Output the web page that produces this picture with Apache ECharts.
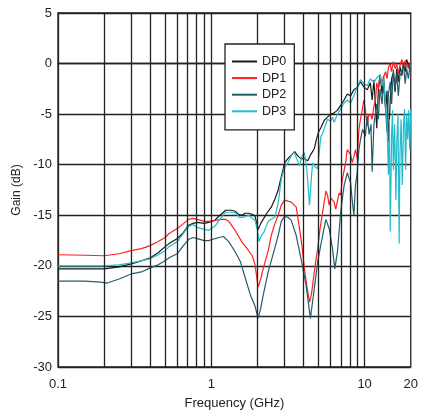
<!DOCTYPE html>
<html>
<head>
<meta charset="utf-8">
<script src="https://cdn.jsdelivr.net/npm/echarts@6/dist/echarts.min.js"></script>
<style>html,body{margin:0;padding:0;background:#fff}#c{width:421px;height:415px}</style>
</head>
<body>
<div id="c"></div>
<script>
var seriesNames = ['DP0', 'DP1', 'DP2', 'DP3'];
var xTickLabels = [0.1, 1, 10, 20];
var xGridValues = [0.2, 0.3, 0.4, 0.5, 0.6, 0.7, 0.8, 0.9, 1, 2, 3, 4, 5, 6, 7, 8, 9, 10];

var dp0 = [[0.1,-20.3],[0.15,-20.3],[0.2,-20.3],[0.25,-20.1],[0.3,-19.8],[0.35,-19.5],[0.4,-19.2],[0.45,-18.7],[0.5,-18.1],[0.53,-17.8],[0.6,-17.3],[0.65,-16.8],[0.71,-16.0],[0.76,-15.8],[0.81,-15.7],[0.9,-15.8],[0.96,-15.7],[1.05,-15.5],[1.12,-15.1],[1.2,-14.7],[1.24,-14.5],[1.35,-14.5],[1.43,-14.6],[1.5,-14.9],[1.58,-15.0],[1.66,-14.8],[1.75,-14.8],[1.85,-14.9],[1.93,-15.1],[2.02,-16.4],[2.1,-15.8],[2.18,-15.4],[2.3,-14.8],[2.46,-14.2],[2.6,-13.4],[2.73,-12.5],[2.86,-11.2],[3.01,-9.8],[3.2,-9.3],[3.35,-9.0],[3.5,-8.7],[3.65,-9.1],[3.85,-9.4],[4.05,-9.4],[4.26,-9.6],[4.45,-9.0],[4.7,-8.4],[4.85,-7.5],[5.0,-6.8],[5.2,-6.3],[5.46,-5.6],[5.73,-5.3],[6.02,-5.0],[6.3,-4.9],[6.65,-4.6],[7.0,-4.1],[7.34,-3.6],[7.71,-3.0],[8.1,-3.2],[8.5,-2.6],[8.9,-2.4],[9.4,-1.8],[9.88,-2.3],[10.4,-2.6],[10.9,-1.9],[11.2,-3.6],[11.5,-1.6],[12.0,-6.4],[12.3,-2.5],[12.6,-1.1],[13.0,-3.0],[13.3,-1.2],[13.7,-4.5],[14.0,-2.7],[14.3,-7.8],[14.7,-3.5],[15.0,-1.5],[15.4,-0.9],[15.8,-2.8],[16.2,-0.5],[16.6,-1.8],[17.0,-0.3],[17.5,-1.2],[17.9,0.1],[18.4,-0.8],[18.8,0.4],[19.3,-0.2],[19.8,-0.6],[20,-0.4]];

var dp1 = [[0.1,-18.9],[0.15,-18.95],[0.2,-19.0],[0.25,-18.8],[0.3,-18.5],[0.35,-18.3],[0.4,-18.0],[0.45,-17.6],[0.5,-17.2],[0.53,-16.8],[0.6,-16.3],[0.65,-15.9],[0.71,-15.4],[0.76,-15.3],[0.81,-15.4],[0.9,-15.6],[0.96,-15.6],[1.06,-15.5],[1.15,-15.4],[1.235,-15.4],[1.3,-15.6],[1.43,-16.5],[1.58,-17.6],[1.75,-18.5],[1.85,-19.0],[1.93,-19.9],[2.02,-22.1],[2.1,-21.3],[2.18,-20.3],[2.35,-18.5],[2.46,-17.0],[2.59,-15.9],[2.73,-15.0],[2.86,-14.0],[3.01,-13.5],[3.15,-13.6],[3.32,-13.7],[3.58,-14.2],[3.76,-16.3],[3.9,-18.0],[4.05,-20.3],[4.2,-22.0],[4.37,-23.6],[4.5,-22.8],[4.58,-21.9],[4.75,-20.0],[4.94,-18.3],[5.1,-16.5],[5.32,-14.7],[5.59,-12.6],[5.73,-13.0],[5.87,-14.0],[6.02,-13.3],[6.17,-13.2],[6.33,-13.7],[6.48,-14.4],[6.65,-13.6],[6.82,-12.8],[6.98,-13.0],[7.16,-11.4],[7.34,-10.6],[7.52,-9.8],[7.71,-8.5],[7.91,-8.6],[8.1,-9.0],[8.3,-9.8],[8.51,-9.2],[8.72,-8.5],[8.95,-9.4],[9.18,-6.5],[9.4,-5.5],[9.6,-4.8],[9.88,-3.6],[10.1,-4.5],[10.4,-6.2],[10.6,-5.2],[10.9,-5.0],[11.2,-5.5],[11.5,-4.2],[11.8,-3.5],[12.0,-1.9],[12.3,-2.5],[12.6,-1.1],[13.0,-2.0],[13.3,-1.3],[13.7,-0.8],[14.0,-1.5],[14.3,-0.4],[14.7,0.0],[15.0,-0.8],[15.4,0.2],[15.8,-0.5],[16.2,0.0],[16.6,-1.0],[17.0,-0.2],[17.5,0.4],[17.9,-0.3],[18.4,0.3],[18.8,0.2],[19.3,-0.5],[19.8,0.1],[20,-0.2]];

var dp2 = [[0.1,-21.5],[0.15,-21.5],[0.19,-21.6],[0.21,-21.7],[0.25,-21.3],[0.3,-20.8],[0.35,-20.6],[0.4,-20.2],[0.45,-19.9],[0.5,-19.5],[0.53,-19.2],[0.6,-18.8],[0.65,-18.1],[0.71,-17.4],[0.76,-17.2],[0.81,-17.3],[0.9,-17.5],[0.96,-17.5],[1.06,-17.3],[1.12,-17.2],[1.2,-17.1],[1.3,-17.6],[1.43,-18.6],[1.55,-19.6],[1.65,-21.0],[1.8,-22.9],[1.93,-24.0],[2.02,-25.2],[2.1,-24.2],[2.18,-22.9],[2.35,-20.6],[2.46,-19.5],[2.59,-18.3],[2.73,-17.0],[2.86,-15.6],[3.01,-15.1],[3.16,-15.2],[3.32,-15.5],[3.58,-17.0],[3.85,-19.3],[4.15,-21.9],[4.43,-25.2],[4.58,-23.5],[4.7,-22.2],[4.94,-19.6],[5.32,-17.0],[5.59,-15.4],[5.87,-16.3],[6.17,-18.3],[6.39,-20.3],[6.65,-18.6],[6.98,-14.7],[7.34,-12.1],[7.71,-10.8],[8.1,-11.8],[8.3,-13.5],[8.51,-15.0],[8.72,-12.0],[8.95,-10.8],[9.18,-8.5],[9.4,-7.5],[9.7,-6.5],[10.1,-7.2],[10.4,-5.2],[10.7,-7.0],[11.0,-6.0],[11.2,-10.7],[11.5,-6.0],[12.0,-4.0],[12.3,-5.5],[12.6,-2.5],[13.0,-4.0],[13.3,-1.9],[13.7,-4.5],[14.0,-6.8],[14.3,-3.0],[14.7,-1.8],[15.0,-4.0],[15.4,-0.6],[15.8,-2.5],[16.2,-1.0],[16.6,-3.2],[17.0,-1.2],[17.5,-0.8],[17.9,0.0],[18.4,-2.0],[18.8,-0.5],[19.3,-1.5],[19.8,0.0],[20,-0.8]];

var dp3 = [[0.1,-20.0],[0.15,-20.0],[0.2,-20.0],[0.25,-19.9],[0.3,-19.7],[0.35,-19.5],[0.4,-19.3],[0.45,-18.9],[0.5,-18.5],[0.53,-18.1],[0.6,-17.6],[0.65,-16.9],[0.71,-16.1],[0.76,-15.9],[0.81,-16.2],[0.9,-16.4],[0.96,-16.5],[1.02,-16.2],[1.065,-16.0],[1.15,-15.3],[1.235,-14.7],[1.35,-14.7],[1.43,-14.7],[1.52,-15.2],[1.62,-15.2],[1.75,-15.0],[1.85,-15.3],[1.93,-15.5],[2.0,-16.5],[2.05,-17.6],[2.12,-17.0],[2.2,-16.7],[2.35,-15.6],[2.46,-15.4],[2.59,-15.2],[2.73,-13.8],[2.86,-11.4],[3.0,-10.3],[3.16,-9.8],[3.35,-9.0],[3.49,-8.8],[3.6,-9.4],[3.76,-10.1],[3.9,-9.2],[4.05,-8.8],[4.2,-10.5],[4.37,-14.0],[4.5,-11.2],[4.58,-9.8],[4.75,-10.2],[4.94,-10.4],[5.1,-8.2],[5.19,-7.2],[5.32,-6.9],[5.46,-6.4],[5.73,-5.5],[6.0,-5.7],[6.17,-5.3],[6.33,-5.8],[6.65,-5.0],[6.98,-4.5],[7.34,-3.9],[7.71,-3.6],[8.1,-3.9],[8.5,-3.2],[8.9,-2.4],[9.4,-1.6],[9.88,-2.0],[10.4,-2.2],[10.9,-1.5],[11.5,-1.9],[12.0,-1.4],[12.6,-1.1],[13.0,-2.2],[13.3,-1.5],[13.7,-4.0],[14.0,-6.0],[14.3,-11.0],[14.5,-5.5],[14.7,-16.6],[15.0,-7.0],[15.2,-4.6],[15.4,-10.5],[15.7,-6.0],[16.0,-13.5],[16.2,-8.0],[16.5,-5.0],[16.8,-17.8],[17.0,-9.0],[17.3,-5.5],[17.6,-12.0],[17.9,-6.5],[18.2,-4.5],[18.5,-10.5],[18.8,-5.0],[19.1,-7.5],[19.4,-4.6],[19.7,-8.5],[20,-4.5]];

var colors = ['#1a1a1a', '#ff1f1f', '#245d6c', '#22bccd'];
var dataSets = [dp0, dp1, dp2, dp3];

var chart = echarts.init(document.getElementById('c'), null, {renderer: 'canvas'});
var FONT = 'Liberation Sans';
var series = [{
  type: 'line', name: 'grid', data: [], z: 1, silent: true,
  markLine: {
    silent: true, symbol: ['none', 'none'], label: {show: false}, animation: false,
    lineStyle: {color: '#222', width: 1.3, type: 'solid'},
    emphasis: {disabled: true},
    data: xGridValues.map(function (v) { return {xAxis: v}; })
  }
}];
seriesNames.forEach(function (n, i) {
  series.push({
    type: 'line', name: n, data: dataSets[i], symbol: 'none', showSymbol: false, z: 3,
    lineStyle: {color: colors[i], width: 1.2}, itemStyle: {color: colors[i]}, animation: false
  });
});

chart.setOption({
  animation: false,
  grid: {left: 58, right: 7, top: 13, bottom: 46, show: true, borderColor: '#222', borderWidth: 1.3, backgroundColor: 'transparent'},
  legend: {
    data: seriesNames, orient: 'vertical', left: 225, top: 44,
    backgroundColor: '#fff', borderColor: '#222', borderWidth: 1.3,
    padding: [11, 8, 12, 6], itemWidth: 25, itemHeight: 10, itemGap: 3.6,
    itemStyle: {opacity: 0, borderWidth: 0},
    lineStyle: {width: 2, inactiveWidth: 2},
    textStyle: {fontFamily: FONT, fontSize: 12.5, color: '#222'}, z: 10
  },
  xAxis: {
    type: 'log', logBase: 10, min: 0.1, max: 20,
    name: 'Frequency (GHz)', nameLocation: 'middle', nameGap: 30,
    nameTextStyle: {fontFamily: FONT, fontSize: 13, color: '#222'},
    axisLine: {show: true, lineStyle: {color: '#222', width: 1.3}},
    axisTick: {show: false},
    splitLine: {show: false},
    axisLabel: {customValues: xTickLabels, fontFamily: FONT, fontSize: 13, color: '#222', margin: 11,
      formatter: function (v) { return String(Math.round(v * 10) / 10); }}
  },
  yAxis: {
    type: 'value', min: -30, max: 5, interval: 5,
    name: 'Gain (dB)', nameLocation: 'middle', nameGap: 35,
    nameTextStyle: {fontFamily: FONT, fontSize: 12, color: '#222'},
    axisLine: {show: true, lineStyle: {color: '#222', width: 1.3}},
    axisTick: {show: false},
    splitLine: {show: true, lineStyle: {color: '#222', width: 1.3}},
    axisLabel: {fontFamily: FONT, fontSize: 13, color: '#222', margin: 6}
  },
  series: series
});
</script>
</body>
</html>
